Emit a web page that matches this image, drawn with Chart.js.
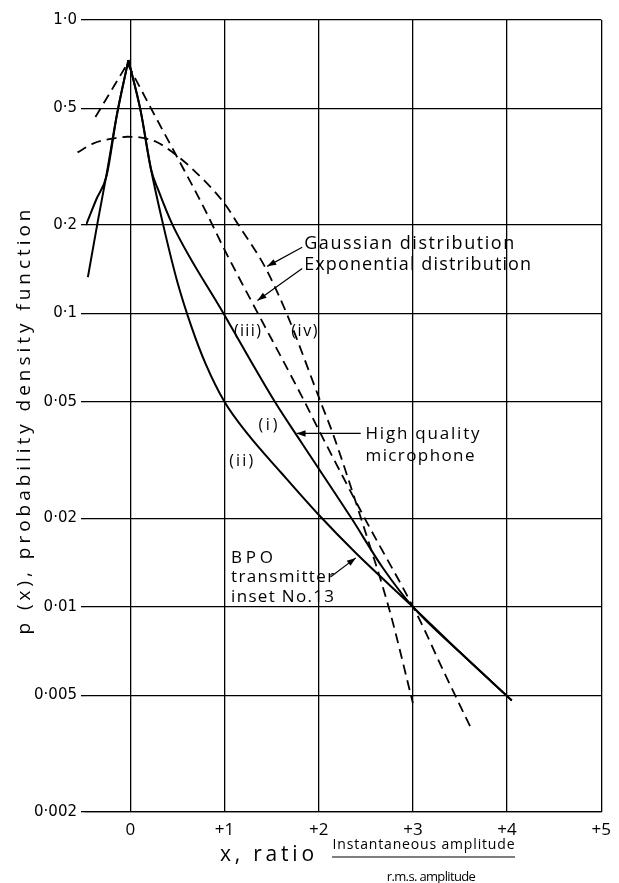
<!DOCTYPE html>
<html>
<head>
<meta charset="utf-8">
<script src="https://cdn.jsdelivr.net/npm/chart.js@4.4.0/dist/chart.umd.min.js"></script>
<style>
html,body{margin:0;padding:0;background:#fff;}
canvas{display:block;}
</style>
</head>
<body>
<canvas id="c" width="619" height="883"></canvas>
<script>
// ---- tick values and labels ----
const xTicks = [0, 1, 2, 3, 4, 5];
const xTickLabels = ['0', '+1', '+2', '+3', '+4', '+5'];
const yTicks = [0.002, 0.005, 0.01, 0.02, 0.05, 0.1, 0.2, 0.5, 1.0];
const yTickLabels = ['0·002', '0·005', '0·01', '0·02', '0·05', '0·1', '0·2', '0·5', '1·0'];

// ---- (i) High quality microphone (solid) ----
const micX = [-0.47, -0.36, -0.25, -0.14, -0.02, 0.11, 0.22, 0.30, 0.45, 0.99, 1.535, 1.81, 2.35, 2.68, 3.0, 3.5, 4.05];
const micY = [0.2, 0.245, 0.296, 0.48, 0.73, 0.49, 0.31, 0.262, 0.2, 0.1, 0.05, 0.0366, 0.02, 0.0136, 0.01, 0.0070, 0.0048];

// ---- (ii) BPO transmitter inset No.13 (solid) ----
const bpoX = [-0.45, -0.34, -0.25, -0.15, -0.02, 0.11, 0.22, 0.35, 0.5, 0.65, 0.8, 1.0, 1.25, 1.6, 2.0, 2.4, 3.0, 3.5, 4.05];
const bpoY = [0.133, 0.21, 0.30, 0.46, 0.73, 0.49, 0.31, 0.2, 0.128, 0.090, 0.0673, 0.05, 0.0387, 0.0287, 0.0206, 0.0152, 0.01, 0.0070, 0.0048];

// ---- (iv) Gaussian distribution (dashed) ----
const gaussX = [-0.56, -0.39, -0.16, -0.03, 0.1, 0.28, 0.47, 0.64, 1.0, 1.15, 1.43, 1.66, 2.02, 2.15, 2.45, 2.75, 3.0];
const gaussY = [0.354, 0.38, 0.396, 0.40, 0.398, 0.384, 0.35, 0.315, 0.237, 0.2, 0.144, 0.1, 0.05, 0.039, 0.02, 0.0098, 0.0047];

// ---- (iii) Exponential distribution (dashed) ----
const expX = [-0.37, -0.03, 0.22, 0.5, 0.78, 1.0, 1.3, 1.81, 2.02, 2.49, 3.06, 3.33, 3.61];
const expY = [0.467, 0.71, 0.5, 0.34, 0.23, 0.165, 0.108, 0.053, 0.039, 0.02, 0.0092, 0.006, 0.0039];

// ---- annotation text (positions in data units) ----
const labelTexts = [
  {text: 'Gaussian distribution',    x: 1.846, y: 0.1654, size: 18, width: 210},
  {text: 'Exponential distribution', x: 1.846, y: 0.1402, size: 18, width: 227},
  {text: '(iii)', x: 1.10, y: 0.0841, size: 16, width: 27},
  {text: '(iv)',  x: 1.71, y: 0.0841, size: 16, width: 26},
  {text: '(i)',   x: 1.36, y: 0.0402, size: 16, width: 19},
  {text: '(ii)',  x: 1.05, y: 0.0301, size: 16, width: 24},
  {text: 'High quality', x: 2.497, y: 0.0372, size: 17, width: 114},
  {text: 'microphone',   x: 2.497, y: 0.0313, size: 17, width: 109},
  {text: 'BPO',          x: 1.07, y: 0.0141, size: 17, width: 42},
  {text: 'transmitter',  x: 1.07, y: 0.01217, size: 17, width: 103},
  {text: 'inset No.13',  x: 1.07, y: 0.0104, size: 17, width: 103}
];
const labelArrows = [
  {from: [1.825, 0.168],  to: [1.453, 0.1447]},
  {from: [1.825, 0.1424], to: [1.35, 0.1107]},
  {from: [2.446, 0.0390], to: [1.765, 0.0390]},
  {from: [2.125, 0.01265], to: [2.394, 0.01469]}
];

function pts(xs, ys) { return xs.map((x, i) => ({x: x, y: ys[i]})); }
// split a peaked curve into its rising and falling branches so the apex stays sharp
function branches(xs, ys) {
  const k = ys.indexOf(Math.max.apply(null, ys));
  return [pts(xs.slice(0, k + 1), ys.slice(0, k + 1)), pts(xs.slice(k), ys.slice(k))];
}

const FONT = '"Open Sans", "DejaVu Sans", sans-serif';

function fitText(ctx, text, x, y, size, width) {
  ctx.font = size + 'px ' + FONT;
  const hasLS = ('letterSpacing' in ctx);
  if (hasLS) ctx.letterSpacing = '0px';
  const w = ctx.measureText(text).width;
  if (hasLS && width) {
    const ls = (width - w) / Math.max(1, text.length - 1);
    ctx.letterSpacing = ls.toFixed(2) + 'px';
  }
  ctx.fillText(text, x, y);
  if (hasLS) ctx.letterSpacing = '0px';
}

const annotationPlugin = {
  id: 'annotations',
  afterDatasetsDraw(chart) {
    const ctx = chart.ctx;
    const xs = chart.scales.x, ys = chart.scales.y;
    ctx.save();
    ctx.fillStyle = '#000';
    ctx.strokeStyle = '#000';
    ctx.textAlign = 'left';
    ctx.textBaseline = 'alphabetic';
    labelTexts.forEach(t => {
      fitText(ctx, t.text, xs.getPixelForValue(t.x), ys.getPixelForValue(t.y), t.size, t.width);
    });
    ctx.lineWidth = 1.2;
    labelArrows.forEach(a => {
      const x1 = xs.getPixelForValue(a.from[0]), y1 = ys.getPixelForValue(a.from[1]);
      const x2 = xs.getPixelForValue(a.to[0]), y2 = ys.getPixelForValue(a.to[1]);
      ctx.beginPath(); ctx.moveTo(x1, y1); ctx.lineTo(x2, y2); ctx.stroke();
      const ang = Math.atan2(y2 - y1, x2 - x1);
      const L = 9, W = 3.2;
      ctx.beginPath();
      ctx.moveTo(x2, y2);
      ctx.lineTo(x2 - L * Math.cos(ang) + W * Math.sin(ang), y2 - L * Math.sin(ang) - W * Math.cos(ang));
      ctx.lineTo(x2 - L * Math.cos(ang) - W * Math.sin(ang), y2 - L * Math.sin(ang) + W * Math.cos(ang));
      ctx.closePath(); ctx.fill();
    });
    // axis titles
    fitText(ctx, 'x, ratio', 220, 861, 21, 94);
    ctx.textAlign = 'center';
    fitText(ctx, 'Instantaneous amplitude', 424, 849, 14, 182);
    ctx.beginPath(); ctx.lineWidth = 1.2; ctx.moveTo(332, 857); ctx.lineTo(515, 857); ctx.stroke();
    fitText(ctx, 'r.m.s. amplitude', 431, 881, 13, 89);
    ctx.save();
    ctx.translate(25, 420);
    ctx.rotate(-Math.PI / 2);
    ctx.textBaseline = 'middle';
    fitText(ctx, 'p (x), probability density function', 0, 0, 19, 425);
    ctx.restore();
    ctx.restore();
  }
};

const solid = {borderColor: '#000', borderWidth: 2, pointRadius: 0, showLine: true, fill: false, cubicInterpolationMode: 'monotone'};
const dashed = Object.assign({}, solid, {borderWidth: 1.8, borderDash: [10, 6]});

const micB = branches(micX, micY), bpoB = branches(bpoX, bpoY), expB = branches(expX, expY);

new Chart(document.getElementById('c'), {
  type: 'scatter',
  data: {
    datasets: [
      Object.assign({label: '(i) High quality microphone', data: micB[0]}, solid),
      Object.assign({label: '(i) High quality microphone ', data: micB[1]}, solid),
      Object.assign({label: '(ii) BPO transmitter inset No.13', data: bpoB[0]}, solid),
      Object.assign({label: '(ii) BPO transmitter inset No.13 ', data: bpoB[1]}, solid),
      Object.assign({label: '(iii) Exponential distribution', data: expB[0]}, dashed),
      Object.assign({label: '(iii) Exponential distribution ', data: expB[1]}, dashed),
      Object.assign({label: '(iv) Gaussian distribution', data: pts(gaussX, gaussY), clip: false}, dashed)
    ]
  },
  options: {
    responsive: false,
    animation: false,
    devicePixelRatio: 1,
    layout: {padding: {top: 20, right: 4, left: 0, bottom: 0}},
    plugins: {legend: {display: false}, tooltip: {enabled: false}},
    scales: {
      x: {
        type: 'linear', min: -0.47, max: 5, bounds: 'data',
        afterBuildTicks: s => { s.ticks = xTicks.map(v => ({value: v})); },
        afterFit: s => { s.height = 71; },
        ticks: {
          autoSkip: false, maxRotation: 0, color: '#000', padding: 8,
          font: {family: FONT, size: 17},
          callback: v => { const i = xTicks.indexOf(v); return i >= 0 ? xTickLabels[i] : ''; }
        },
        grid: {color: '#000', lineWidth: 1.3, drawTicks: false},
        border: {display: true, color: '#000', width: 1.3}
      },
      y: {
        type: 'logarithmic', min: 0.002, max: 1.0, bounds: 'data',
        afterBuildTicks: s => { s.ticks = yTicks.map(v => ({value: v})); },
        afterFit: s => { s.width = 86; },
        ticks: {
          autoSkip: false, color: '#000', padding: 4,
          font: {family: '"DejaVu Sans", sans-serif', size: 15},
          callback: v => { const i = yTicks.findIndex(t => Math.abs(t - v) < 1e-9); return i >= 0 ? yTickLabels[i] : ''; }
        },
        grid: {color: '#000', lineWidth: 1.3, drawTicks: true, tickLength: 5},
        border: {display: false}
      }
    }
  },
  plugins: [annotationPlugin]
});
</script>
</body>
</html>
